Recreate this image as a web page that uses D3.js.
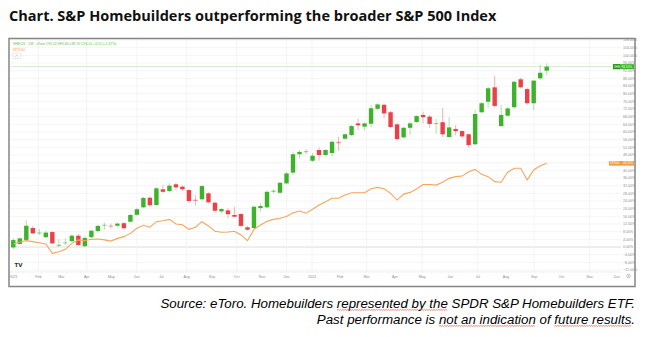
<!DOCTYPE html>
<html><head><meta charset="utf-8">
<script src="https://cdn.jsdelivr.net/npm/d3@7"></script>
<style>html,body{margin:0;padding:0;background:#fff;} svg{display:block;}</style>
</head><body><svg id="c" width="646" height="337"></svg>
<script>
// ---- data (percent change since start) ----
const xhbOpen = [-0.2,1.6,3.7,9.9,7.1,5.1,7.8,0.5,2.0,3.0,
 5.9,0.4,5.1,8.3,11.2,11.2,11.1,12.4,13.2,16.8,
 20.7,25.7,21.9,30.1,29.2,32.7,31.5,29.7,24.7,24.9,
 28.0,23.1,18.6,19.1,16.7,17.2,10.3,9.9,20.3,20.7,
 28.7,28.3,33.2,38.8,48.4,50.0,45.0,50.6,48.0,49.0,
 54.9,56.5,58.4,64.5,62.8,64.3,72.1,74.2,70.3,64.0,
 57.2,62.2,65.2,68.9,68.0,64.2,65.1,57.4,61.6,60.5,
 58.8,53.6,70.3,75.8,83.3,63.1,68.5,72.9,87.5,82.4,
 75.0,88.0,92.0];
const xhbHigh = [4.5,5.0,14.1,11.0,9.4,8.5,8.3,4.0,4.5,6.6,
 6.8,5.9,9.0,11.6,12.7,12.2,12.8,13.0,17.4,20.3,
 26.1,26.5,31.3,32.3,33.4,33.4,32.0,30.1,27.1,32.3,
 28.6,23.6,20.3,20.2,21.0,17.7,11.0,21.7,22.8,29.3,
 30.1,34.0,39.0,49.8,50.6,51.0,49.0,52.0,51.0,55.5,
 57.5,59.3,63.7,67.1,65.0,74.1,75.0,74.8,71.0,64.6,
 62.7,65.4,68.8,70.6,68.9,67.0,72.5,67.7,63.6,61.0,
 59.3,71.5,75.6,83.6,89.4,74.1,73.0,86.8,88.3,83.1,
 87.2,94.9,95.8];
const xhbLow = [-1.2,1.2,3.1,6.8,6.3,4.6,1.5,0.2,1.0,2.6,
 0.6,0.2,4.6,7.9,9.0,9.6,10.1,9.2,12.8,16.3,
 20.3,20.9,21.4,28.3,28.7,29.6,29.2,23.0,21.6,24.3,
 22.8,18.0,17.7,15.0,15.5,10.3,8.5,9.4,18.4,20.3,
 28.0,27.9,32.7,37.6,46.3,48.5,44.4,45.0,47.5,47.5,
 50.2,56.0,57.9,61.0,60.7,62.5,71.5,67.1,62.0,55.5,
 56.7,58.4,64.7,64.5,62.1,59.1,57.3,56.7,58.3,56.7,
 51.8,53.2,69.8,72.7,72.8,62.6,67.9,72.3,82.8,74.2,
 71.5,87.1,89.7];
const xhbClose = [3.6,4.5,11.1,7.1,7.6,7.5,1.9,1.2,2.4,5.9,
 1.0,4.7,8.5,11.0,11.6,10.8,12.2,9.8,16.7,19.7,
 25.6,21.8,30.6,28.8,32.0,31.1,30.1,24.0,24.0,31.8,
 23.3,18.9,19.8,17.1,15.8,11.0,9.0,21.0,21.4,28.8,
 29.4,33.5,38.4,48.4,49.6,49.8,47.6,48.0,50.6,54.9,
 54.1,58.8,63.1,63.5,64.5,72.4,74.4,69.7,62.6,56.3,
 62.2,64.5,68.3,67.7,64.2,64.7,58.8,62.4,60.5,57.7,
 53.2,69.4,75.0,82.8,73.6,68.9,72.3,86.2,83.3,75.0,
 86.8,90.9,94.1];
const spx500 = [1.6,2.6,3.3,2.8,2.2,1.6,-3.3,-2.5,-1.2,1.9,
 3.7,3.3,4.0,4.2,3.7,3.1,4.5,5.4,7.1,9.8,
 11.3,10.3,13.2,13.7,14.4,12.0,11.6,9.2,10.3,13.2,
 11.0,8.2,7.7,7.8,8.2,6.3,3.3,9.2,11.5,13.4,
 14.4,15.0,15.9,17.9,18.8,17.6,19.7,21.9,23.6,25.4,
 25.4,27.1,28.3,28.3,28.3,30.4,31.1,30.4,28.0,24.5,
 27.6,28.5,30.3,32.6,32.6,32.3,33.8,35.8,36.7,37.0,
 39.3,40.5,37.9,36.7,34.1,33.8,39.0,41.1,41.1,35.0,
 40.2,42.4,43.7];
const monthDates = ["2023-01-01","2023-02-01","2023-03-01","2023-04-01","2023-05-01","2023-06-01","2023-07-01","2023-08-01","2023-09-01","2023-10-01","2023-11-01","2023-12-01",
 "2024-01-01","2024-02-01","2024-03-01","2024-04-01","2024-05-01","2024-06-01","2024-07-01","2024-08-01","2024-09-01","2024-10-01","2024-11-01","2024-12-01"];
const monthLabels = ["2023","Feb","Mar","Apr","May","Jun","Jul","Aug","Sep","Oct","Nov","Dec",
 "2024","Feb","Mar","Apr","May","Jun","Jul","Aug","Sep","Oct","Nov","Dec"];
const gridDates = ["2023-02-01","2023-04-01","2023-06-01","2023-08-01","2023-10-01","2023-12-01","2024-01-01","2024-03-01","2024-05-01","2024-07-01","2024-09-01","2024-11-01"];
const yTicks = [-12,-8,-4,0,4,8,12,16,20,24,28,32,36,40,44,48,52,56,60,64,68,72,76,80,84,88,92,96,100,104,108];
const titleText = "Chart. S&P Homebuilders outperforming the broader S&P 500 Index";
const caption1 = "Source: eToro. Homebuilders represented by the SPDR S&P Homebuilders ETF.";
const caption2 = "Past performance is not an indication of future results.";

// ---- drawing ----
const svg = d3.select("#c");
const parse = d3.timeParse("%Y-%m-%d");
const GREEN = "#3cb32a", RED = "#ea4149", ORANGE = "#f6a55b";
const plot = {l: 10, r: 621, t: 39, b: 272};

const y = d3.scaleLinear().domain([0, 108]).range([247, 40]);
const xc = d3.scaleLinear().domain([0, xhbClose.length - 1]).range([13.3, 546.7]);
const xt = d3.scaleTime()
  .domain([parse("2023-01-01"), parse("2024-01-01"), parse("2024-12-01")])
  .range([13, 312, 617]);

svg.append("rect").attr("width",646).attr("height",337).attr("fill","#fff");

// title
const title = svg.append("text").attr("x",9).attr("y",21)
  .attr("font-family","'Open Sans', sans-serif").attr("font-weight","bold")
  .attr("font-size",14).attr("fill","#111").text(titleText);
{ const w = title.node().getComputedTextLength(); title.attr("font-size", 14*488/w); }

// grid
const g = svg.append("g");
g.selectAll(".hg").data(yTicks).enter().append("line")
  .attr("x1",plot.l).attr("x2",plot.r).attr("y1",d=>y(d)).attr("y2",d=>y(d))
  .attr("stroke", d=> d===0 ? "#dcdcdc" : "#f3f3f3").attr("stroke-width", d=> d===0?1:0.8);
g.selectAll(".vg").data(gridDates).enter().append("line")
  .attr("x1",d=>xt(parse(d))).attr("x2",d=>xt(parse(d))).attr("y1",plot.t).attr("y2",plot.b)
  .attr("stroke","#f1f1f1").attr("stroke-width",0.8);
g.append("line").attr("x1",plot.l).attr("x2",plot.r).attr("y1",plot.b).attr("y2",plot.b)
  .attr("stroke","#d8d8d8").attr("stroke-width",0.7).attr("stroke-dasharray","1.5,1");

// last-price line
const lastC = xhbClose[xhbClose.length-1];
const lastS = spx500[spx500.length-1];
g.append("line").attr("x1",plot.l).attr("x2",plot.r).attr("y1",y(lastC)).attr("y2",y(lastC))
  .attr("stroke","#c6ebbb").attr("stroke-width",0.8);

// candles
const idx = d3.range(xhbClose.length);
const cg = svg.append("g");
cg.selectAll(".wick").data(idx).enter().append("line")
  .attr("x1",i=>xc(i)).attr("x2",i=>xc(i))
  .attr("y1",i=>y(xhbHigh[i])).attr("y2",i=>y(xhbLow[i]))
  .attr("stroke",i=> xhbClose[i]>=xhbOpen[i]?GREEN:RED).attr("stroke-opacity",0.4).attr("stroke-width",1);
cg.selectAll(".body").data(idx).enter().append("rect")
  .attr("x",i=>xc(i)-2.2).attr("width",4.4)
  .attr("y",i=>y(Math.max(xhbOpen[i],xhbClose[i])))
  .attr("height",i=>Math.max(1, Math.abs(y(xhbOpen[i])-y(xhbClose[i]))))
  .attr("fill",i=> xhbClose[i]>=xhbOpen[i]?GREEN:RED)
  .attr("fill-opacity",i=> Math.abs(xhbOpen[i]-xhbClose[i])<0.8 ? 0.55 : 1);

// S&P 500 line
svg.append("path").datum(spx500)
  .attr("d", d3.line().x((d,i)=>xc(i)).y(d=>y(d)))
  .attr("fill","none").attr("stroke",ORANGE).attr("stroke-width",1.1);

// right axis labels (those hidden under the price tags are not drawn)
const fmt = d3.format(".2f");
const visibleTicks = yTicks.filter(d => Math.abs(y(d)-y(lastS)) > 3 && Math.abs(y(d)-y(lastC)) > 3);
svg.selectAll(".yl").data(visibleTicks).enter().append("text")
  .attr("x",623).attr("y",d=>y(d)+1.2)
  .attr("font-family","'Liberation Sans', Arial, sans-serif").attr("font-size",3.6)
  .attr("fill","#8c8c8c").text(d=>fmt(d)+"%");

// bottom axis labels
svg.selectAll(".xl").data(monthDates).enter().append("text")
  .attr("x",d=>xt(parse(d))).attr("y",277.5).attr("text-anchor","middle")
  .attr("font-family","'Liberation Sans', Arial, sans-serif").attr("font-size",3.6)
  .attr("fill","#8c8c8c").text((d,i)=>monthLabels[i]);

// price tags
const tagG = svg.append("g");
tagG.append("rect").attr("x",613).attr("y",y(lastC)-2.5).attr("width",21).attr("height",5).attr("fill",GREEN);
tagG.append("rect").attr("x",613).attr("y",y(lastC)-2.5).attr("width",7).attr("height",5).attr("fill","#2a8f1c");
tagG.append("text").attr("x",614).attr("y",y(lastC)+1.1).attr("font-size",2.8).attr("fill","#fff")
  .attr("font-family","'Liberation Sans', Arial, sans-serif").text("XHB");
tagG.append("text").attr("x",621.5).attr("y",y(lastC)+1.1).attr("font-size",3.1).attr("fill","#fff")
  .attr("font-family","'Liberation Sans', Arial, sans-serif").text(fmt(lastC)+"%");
tagG.append("rect").attr("x",609).attr("y",y(lastS)-2.2).attr("width",25).attr("height",4.6).attr("fill","#f59a3e");
tagG.append("text").attr("x",610).attr("y",y(lastS)+1.1).attr("font-size",2.6).attr("fill","#fff")
  .attr("font-family","'Liberation Sans', Arial, sans-serif").text("SPX500");
tagG.append("text").attr("x",623).attr("y",y(lastS)+1.1).attr("font-size",3).attr("fill","#fff")
  .attr("font-family","'Liberation Sans', Arial, sans-serif").text(fmt(lastS)+"%");

// legend (top-left)
svg.append("text").attr("x",12.7).attr("y",45).attr("font-size",3.4).attr("fill","#5cbf45")
  .attr("font-family","'Liberation Sans', Arial, sans-serif")
  .text("XHB:US · 1W · eToro   O92.02 H95.80 L89.70 C94.10 +3.20 (+1.67%)");
svg.append("text").attr("x",12.7).attr("y",51).attr("font-size",3.4).attr("fill",ORANGE)
  .attr("font-family","'Liberation Sans', Arial, sans-serif").text("SPX500");
svg.append("rect").attr("x",12.7).attr("y",53).attr("width",8).attr("height",5.5).attr("rx",1)
  .attr("fill","#fff").attr("stroke","#d0d0d0").attr("stroke-width",0.5);
svg.append("path").attr("d","M15.2,56.6 L16.7,55.2 L18.2,56.6").attr("fill","none")
  .attr("stroke","#888").attr("stroke-width",0.5);

// TV logo + gear
svg.append("text").attr("x",14.5).attr("y",266.5).attr("font-size",5.5).attr("font-weight","bold")
  .attr("fill","#333").attr("font-family","'DejaVu Sans', sans-serif").text("TV");
svg.append("circle").attr("cx",628.5).attr("cy",276).attr("r",1.8).attr("fill","none")
  .attr("stroke","#999").attr("stroke-width",0.6);
svg.append("circle").attr("cx",628.5).attr("cy",276).attr("r",0.6).attr("fill","#999");

// frame
svg.append("rect").attr("x",9).attr("y",38.5).attr("width",626).attr("height",248)
  .attr("fill","none").attr("stroke","#858585").attr("stroke-width",1.5);

// captions
const capFont = "'Liberation Sans', Arial, sans-serif";
const c1 = svg.append("text").attr("x",635).attr("y",307.5).attr("text-anchor","end")
  .attr("font-family",capFont).attr("font-style","italic").attr("font-size",13)
  .attr("fill","#000").text(caption1);
const fs = 13*475/c1.node().getComputedTextLength();
c1.attr("font-size",fs);
const c2 = svg.append("text").attr("x",635).attr("y",323.5).attr("text-anchor","end")
  .attr("font-family",capFont).attr("font-style","italic").attr("font-size",fs)
  .attr("fill","#000").text(caption2);

function squiggle(node, str, phrase, baseY){
  const total = node.getComputedTextLength();
  const i0 = str.indexOf(phrase);
  const off = node.getSubStringLength(0, i0);
  const len = node.getSubStringLength(i0, phrase.length);
  const x0 = 635 - total + off, x1 = x0 + len;
  let d = "M"+x0+","+(baseY+2.6);
  let up = true;
  for (let x = x0 + 1.2; x <= x1; x += 1.2){ d += " L"+x+","+(baseY+(up?1.9:2.9)); up=!up; }
  svg.append("path").attr("d",d).attr("fill","none").attr("stroke","#e03a2f").attr("stroke-width",0.6);
}
squiggle(c1.node(), caption1, "represented by the", 307.5);
squiggle(c2.node(), caption2, "not an indication", 323.5);
squiggle(c2.node(), caption2, "future results", 323.5);
</script></body></html>
